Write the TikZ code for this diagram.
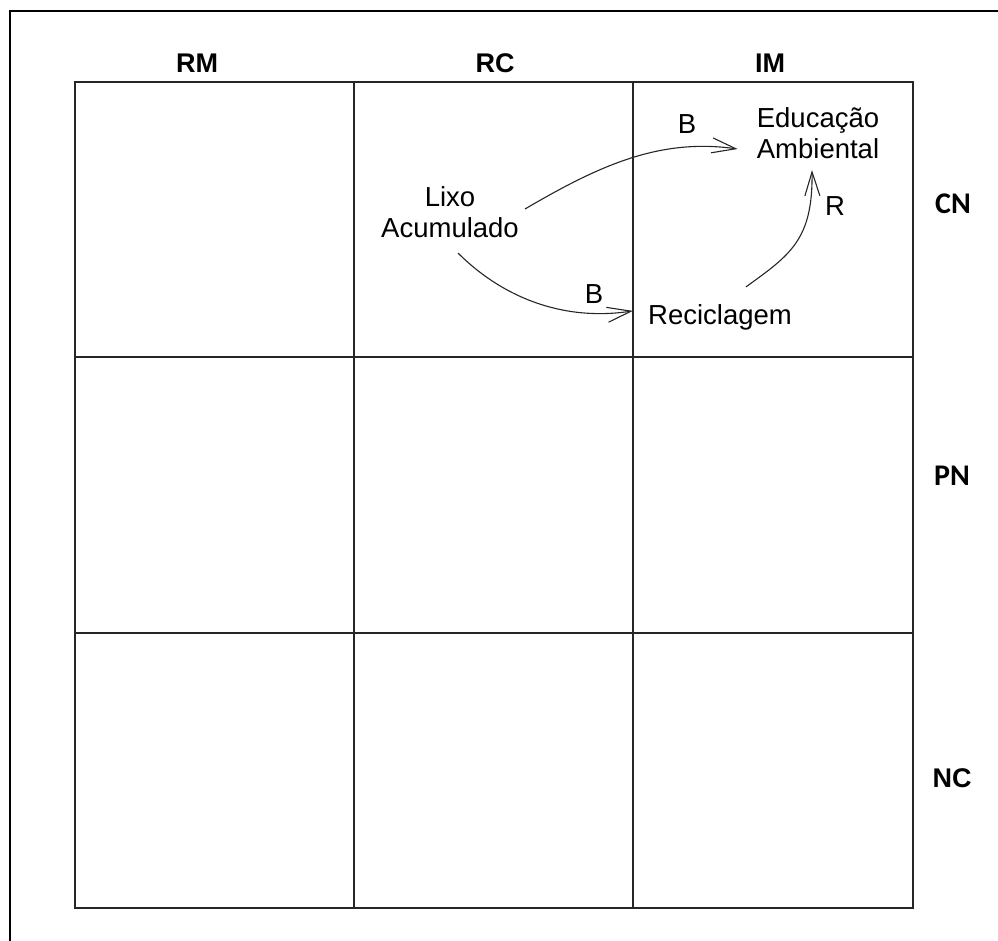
\documentclass[tikz,border=0pt]{standalone}
\usepackage{fontspec}
\setmainfont{Liberation Sans}
\newfontfamily\calibfont{Carlito}
\usetikzlibrary{arrows.meta}

\begin{document}
\begin{tikzpicture}[x=1pt,y=-1pt,
  frame/.style={line width=2.5pt, draw=black},
  gridline/.style={line width=1.6pt, draw=black!85},
  colhead/.style={font=\fontsize{27}{30}\selectfont\bfseries, anchor=base, inner sep=0pt},
  rowhead/.style={font=\calibfont\fontsize{30}{33}\selectfont\bfseries, anchor=base, inner sep=0pt},
  var/.style={font=\fontsize{27.5}{31.5}\selectfont, align=center, inner sep=0pt},
  polarity/.style={font=\fontsize{27.5}{31.5}\selectfont, anchor=base, inner sep=0pt},
  link/.style={line width=1.1pt, draw=black!85, -{Straight Barb[length=24pt,width=15pt]}}]

\useasboundingbox (0,0) rectangle (998,940);
\clip (0,0) rectangle (998,940);

% outer frame (top and left edges)
\draw[frame] (1010,11) -| (10,950);

% 3x3 grid
\draw[gridline] (75,82) rectangle (913,908);
\draw[gridline] (354,82) -- (354,908);
\draw[gridline] (633,82) -- (633,908);
\draw[gridline] (75,357) -- (913,357);
\draw[gridline] (75,633) -- (913,633);

% column headings
\node[colhead] (hRM) at (197,72) {RM};
\node[colhead] (hRC) at (495,72) {RC};
\node[colhead] (hIM) at (770,72) {IM};

% row headings
\node[rowhead] (hCN) at (953,213) {CN};
\node[rowhead] (hPN) at (952,485) {PN};
\node[colhead] (hNC) at (952,787) {NC};

% variables
\node[var] (lixo) at (450,212) {Lixo\\Acumulado};
\node[var] (educ) at (818,133) {Educação\\Ambiental};
\node[var, anchor=base] (recic) at (720,324) {Reciclagem};

% causal links
\draw[link] ([shift={(6,-3)}]lixo.east)
  .. controls (600,165) and (660,138) .. ([shift={(-19,16)}]educ.west);
\draw[link] ([shift={(8,15)}]lixo.south)
  .. controls (500,295) and (560,322) .. ([shift={(-15,-6)}]recic.west);
\draw[link] ([shift={(26,-17)}]recic.north)
  .. controls (790,255) and (813,240) .. ([shift={(-6,11)}]educ.south);

% link polarities
\node[polarity] (pB1) at (687,133) {B};
\node[polarity] (pB2) at (594,303) {B};
\node[polarity] (pR) at (835,215) {R};
\end{tikzpicture}
\end{document}
